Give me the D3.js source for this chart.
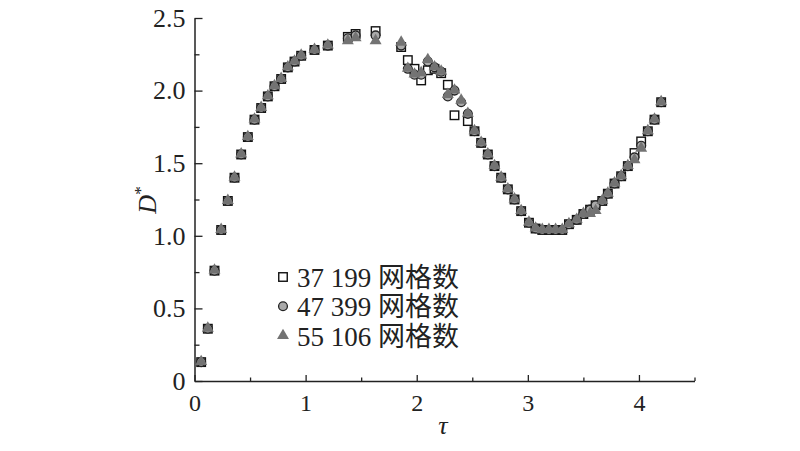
<!DOCTYPE html>
<html>
<head>
<meta charset="utf-8">
<script src="https://cdn.jsdelivr.net/npm/d3@7/dist/d3.min.js"></script>
<style>
  html, body { margin: 0; padding: 0; background: #fff; }
  svg { display: block; }
</style>
</head>
<body>
<svg id="chart" width="800" height="451"></svg>
<script>
// ---- data ----
const seriesNames = ["37 199 网格数", "47 399 网格数", "55 106 网格数"];

const tauCommonA = [0.06,0.12,0.18,0.24,0.30,0.36,0.42,0.48,0.54,0.60,0.66,0.72,0.78,0.84,0.90,0.96,1.08,1.20];
const dCommonA   = [0.13,0.36,0.76,1.04,1.24,1.40,1.56,1.68,1.80,1.88,1.96,2.03,2.08,2.16,2.20,2.24,2.28,2.31];

const tauCommonB = [2.52,2.58,2.64,2.70,2.76,2.82,2.88,2.94,3.01,3.07,3.13,3.19,3.25,3.31,3.37,3.44,3.50];
const dCommonB   = [1.72,1.64,1.56,1.48,1.40,1.32,1.25,1.17,1.09,1.05,1.04,1.04,1.04,1.04,1.08,1.11,1.15];

const tauCommonC = [3.67,3.72,3.78,3.84,3.90];
const dCommonC   = [1.24,1.29,1.36,1.41,1.48];

const tauEnd = [4.08,4.14,4.20];
const dEnd   = [1.72,1.80,1.92];

// series 1: 37 199
const tau1Mid = [1.38,1.45,1.63,1.86,1.92,1.98,2.04,2.10,2.16,2.22,2.28,2.34,2.46];
const d1Mid   = [2.37,2.39,2.41,2.30,2.21,2.15,2.07,2.14,2.15,2.12,2.04,1.83,1.79];
const tau1Hi  = [3.56,3.61];
const d1Hi    = [1.18,1.21];
const tau1Top = [3.96,4.02];
const d1Top   = [1.57,1.65];

// series 2: 47 399
const tau2Mid = [1.38,1.45,1.63,1.86,1.92,1.98,2.04,2.10,2.16,2.22,2.28,2.34,2.40,2.46];
const d2Mid   = [2.36,2.38,2.38,2.31,2.15,2.11,2.11,2.20,2.16,2.13,1.96,2.00,1.92,1.84];
const tau2Hi  = [3.56,3.61];
const d2Hi    = [1.18,1.21];
const tau2Top = [3.96,4.02];
const d2Top   = [1.54,1.62];

// series 3: 55 106
const tau3Mid = [1.38,1.45,1.63,1.86,1.92,1.98,2.04,2.10,2.16,2.22,2.28,2.34,2.40,2.46];
const d3Mid   = [2.34,2.36,2.34,2.33,2.15,2.11,2.12,2.21,2.16,2.13,1.97,2.00,1.93,1.84];
const tau3Hi  = [3.56,3.61];
const d3Hi    = [1.15,1.17];
const tau3Top = [3.96,4.02];
const d3Top   = [1.52,1.60];

const xMajor = [0,1,2,3,4];
const xMinor = [0.5,1.5,2.5,3.5,4.5];
const yMajor = [0,0.5,1.0,1.5,2.0,2.5];
const yMinor = [0.25,0.75,1.25,1.75,2.25];
const yLabels = ["0","0.5","1.0","1.5","2.0","2.5"];

// ---- build ----
function build(tm, dm, th, dh, tt, dt) {
  const t = [].concat(tauCommonA, tm, tauCommonB, th, tauCommonC, tt, tauEnd);
  const d = [].concat(dCommonA, dm, dCommonB, dh, dCommonC, dt, dEnd);
  return t.map((v, i) => ({ tau: v, d: d[i] }));
}
const s1 = build(tau1Mid, d1Mid, tau1Hi, d1Hi, tau1Top, d1Top);
const s2 = build(tau2Mid, d2Mid, tau2Hi, d2Hi, tau2Top, d2Top);
const s3 = build(tau3Mid, d3Mid, tau3Hi, d3Hi, tau3Top, d3Top);

const svg = d3.select("#chart");
const x = d3.scaleLinear().domain([0, 4.5]).range([194.5, 694.5]);
const y = d3.scaleLinear().domain([0, 2.5]).range([381, 18]);

const axisColor = "#222";
const serif = "Liberation Serif";

// x axis
const gx = svg.append("g").attr("transform", `translate(0,${y(0)})`);
gx.call(d3.axisBottom(x).tickValues(xMajor).tickFormat(d3.format("d")).tickSize(-6).tickSizeOuter(0).tickPadding(13));
gx.select(".domain").attr("stroke", axisColor).attr("stroke-width", 1.5);
gx.selectAll(".tick line").attr("stroke", axisColor).attr("stroke-width", 1.3);
gx.selectAll(".tick text").attr("font-family", serif).attr("font-size", 24).attr("fill", "#222").attr("dy", "0.71em");
const gx2 = svg.append("g").attr("transform", `translate(0,${y(0)})`);
gx2.call(d3.axisBottom(x).tickValues(xMinor).tickFormat("").tickSize(-3.5).tickSizeOuter(0));
gx2.select(".domain").remove();
gx2.selectAll(".tick line").attr("stroke", axisColor).attr("stroke-width", 1.3);

// y axis
const gy = svg.append("g").attr("transform", `translate(${x(0)},0)`);
gy.call(d3.axisLeft(y).tickValues(yMajor).tickFormat((d, i) => yLabels[i]).tickSize(-8).tickSizeOuter(0).tickPadding(9));
gy.select(".domain").attr("stroke", axisColor).attr("stroke-width", 1.5);
gy.selectAll(".tick line").attr("stroke", axisColor).attr("stroke-width", 1.3);
gy.selectAll(".tick text").attr("font-family", serif).attr("font-size", 26).attr("fill", "#222");
const gy2 = svg.append("g").attr("transform", `translate(${x(0)},0)`);
gy2.call(d3.axisLeft(y).tickValues(yMinor).tickFormat("").tickSize(-5).tickSizeOuter(0));
gy2.select(".domain").remove();
gy2.selectAll(".tick line").attr("stroke", axisColor).attr("stroke-width", 1.3);

// axis titles
svg.append("text")
  .attr("x", 443).attr("y", 434)
  .attr("text-anchor", "middle")
  .attr("font-family", serif)
  .attr("font-style", "italic").attr("font-size", 26).attr("fill", "#222")
  .text("τ");

const yt = svg.append("text")
  .attr("transform", "translate(156,200) rotate(-90)")
  .attr("text-anchor", "middle")
  .attr("font-family", serif)
  .attr("font-size", 26).attr("fill", "#222");
yt.append("tspan").attr("font-style", "italic").text("D");
yt.append("tspan").attr("font-size", 17).attr("dy", -10).text("*");

// markers
const sqSize = 8.5, cR = 4.4;
const triSym = d3.symbol().type(d3.symbolTriangle).size(62);

function drawSquares(g, data) {
  g.selectAll("rect").data(data).join("rect")
    .attr("x", d => x(d.tau) - sqSize / 2).attr("y", d => y(d.d) - sqSize / 2)
    .attr("width", sqSize).attr("height", sqSize)
    .attr("fill", "#fff").attr("stroke", "#111").attr("stroke-width", 1.4);
}
function drawCircles(g, data) {
  g.selectAll("circle").data(data).join("circle")
    .attr("cx", d => x(d.tau)).attr("cy", d => y(d.d)).attr("r", cR)
    .attr("fill", "#aaaaaa").attr("stroke", "#222").attr("stroke-width", 1.3);
}
function drawTris(g, data) {
  g.selectAll("path").data(data).join("path")
    .attr("d", triSym)
    .attr("transform", d => `translate(${x(d.tau)},${y(d.d) - 0.5})`)
    .attr("fill", "#737373");
}

drawSquares(svg.append("g"), s1);
drawCircles(svg.append("g"), s2);
drawTris(svg.append("g"), s3);

// legend
const legX = 283, legY0 = 277, legDY = 29.3;
const leg = svg.append("g");
const legFont = "'Liberation Serif', 'Noto Sans CJK SC', serif";
leg.append("rect").attr("x", legX - sqSize / 2).attr("y", legY0 - sqSize / 2)
  .attr("width", sqSize).attr("height", sqSize)
  .attr("fill", "#fff").attr("stroke", "#111").attr("stroke-width", 1.4);
leg.append("circle").attr("cx", legX).attr("cy", legY0 + legDY).attr("r", cR)
  .attr("fill", "#aaaaaa").attr("stroke", "#222").attr("stroke-width", 1.3);
leg.append("path").attr("d", triSym)
  .attr("transform", `translate(${legX},${legY0 + 2 * legDY})`).attr("fill", "#737373");
seriesNames.forEach((name, i) => {
  leg.append("text")
    .attr("x", 297).attr("y", legY0 + 10 + i * legDY)
    .attr("font-family", legFont).attr("font-size", 27).attr("fill", "#222")
    .text(name);
});
</script>
</body>
</html>
